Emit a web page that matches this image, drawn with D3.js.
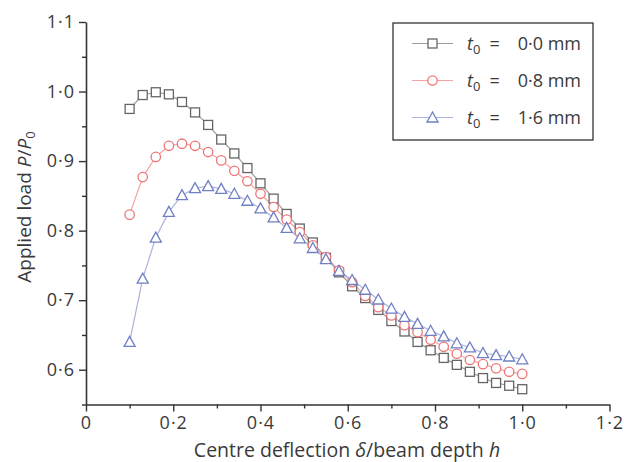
<!DOCTYPE html>
<html>
<head>
<meta charset="utf-8">
<script src="https://cdn.jsdelivr.net/npm/d3@7"></script>
<style>
  body { margin: 0; background: #fff; }
  text { font-family: "Open Sans", "DejaVu Sans", sans-serif; fill: #3a3a3a; }
</style>
</head>
<body>
<div id="container"></div>
<script>
/* CONSTANTS AND GLOBALS */
const width = 624;
const height = 462;

/* DATA */
const deflection = [0.10, 0.13, 0.16, 0.19, 0.22, 0.25, 0.28, 0.31, 0.34, 0.37, 0.40,
  0.43, 0.46, 0.49, 0.52, 0.55, 0.58, 0.61, 0.64, 0.67, 0.70, 0.73, 0.76, 0.79, 0.82,
  0.85, 0.88, 0.91, 0.94, 0.97, 1.00];
const load00 = [0.975, 0.995, 0.999, 0.996, 0.985, 0.970, 0.952, 0.931, 0.911, 0.890, 0.868,
  0.846, 0.824, 0.803, 0.783, 0.761, 0.740, 0.720, 0.703, 0.686, 0.670, 0.655, 0.640, 0.628, 0.617,
  0.607, 0.597, 0.588, 0.581, 0.577, 0.572];
const load08 = [0.823, 0.877, 0.906, 0.922, 0.925, 0.922, 0.913, 0.901, 0.886, 0.871, 0.853,
  0.834, 0.816, 0.798, 0.779, 0.762, 0.743, 0.726, 0.706, 0.690, 0.678, 0.664, 0.654, 0.643, 0.633,
  0.623, 0.614, 0.608, 0.602, 0.597, 0.594];
const load16 = [0.640, 0.731, 0.790, 0.827, 0.851, 0.861, 0.864, 0.860, 0.853, 0.843, 0.832,
  0.819, 0.804, 0.789, 0.775, 0.759, 0.742, 0.729, 0.715, 0.701, 0.688, 0.676, 0.666, 0.656, 0.648,
  0.638, 0.632, 0.624, 0.621, 0.619, 0.615];
const seriesNames = ["0·0", "0·8", "1·6"];

const xTicks = [0, 0.2, 0.4, 0.6, 0.8, 1.0, 1.2];
const xMinor = [0.1, 0.3, 0.5, 0.7, 0.9, 1.1];
const yTicks = [0.6, 0.7, 0.8, 0.9, 1.0, 1.1];
const yMinor = [0.55, 0.65, 0.75, 0.85, 0.95, 1.05];

const fmt = d => d === 0 ? "0" : d3.format(".1f")(d).replace(".", "·");

const series = [
  { name: seriesNames[0], values: load00, line: "#9c9c9c", mark: "#666666", shape: "square" },
  { name: seriesNames[1], values: load08, line: "#f5a3a3", mark: "#f07474", shape: "circle" },
  { name: seriesNames[2], values: load16, line: "#aab2de", mark: "#6f7fc4", shape: "triangle" }
];

const svg = d3.select("#container")
  .append("svg")
  .attr("width", width)
  .attr("height", height)
  .style("background-color", "white");

/* SCALES */
const xScale = d3.scaleLinear().domain([0, 1.2]).range([86, 609.5]);
const yScale = d3.scaleLinear().domain([0.55, 1.1]).range([404.5, 22]);

/* AXES */
svg.append("g")
  .attr("transform", `translate(0,${yScale(0.55)})`)
  .call(d3.axisBottom(xScale).tickValues(xTicks).tickFormat(fmt).tickSize(7).tickSizeOuter(0).tickPadding(5));
svg.append("g")
  .attr("transform", `translate(0,${yScale(0.55)})`)
  .call(d3.axisBottom(xScale).tickValues(xMinor).tickFormat("").tickSize(4).tickSizeOuter(0))
  .select(".domain").remove();

svg.append("g")
  .attr("transform", `translate(${xScale(0)},0)`)
  .call(d3.axisLeft(yScale).tickValues(yTicks).tickFormat(fmt).tickSize(7).tickSizeOuter(0).tickPadding(4));
svg.append("g")
  .attr("transform", `translate(${xScale(0)},0)`)
  .call(d3.axisLeft(yScale).tickValues(yMinor).tickFormat("").tickSize(4).tickSizeOuter(0))
  .select(".domain").remove();

svg.selectAll(".domain").attr("stroke", "#333").attr("stroke-width", 1.6);
svg.selectAll(".tick line").attr("stroke", "#333").attr("stroke-width", 1.4);
svg.selectAll(".tick text")
  .style("font-size", "18px")
  .style("letter-spacing", "1px")
  .attr("fill", "#3a3a3a");

/* AXIS TITLES */
const xTitle = svg.append("text")
  .attr("x", 347)
  .attr("y", 457)
  .attr("text-anchor", "middle")
  .style("font-size", "19.5px");
xTitle.append("tspan").text("Centre deflection ");
xTitle.append("tspan").style("font-style", "italic").text("δ");
xTitle.append("tspan").text("/beam depth ");
xTitle.append("tspan").style("font-style", "italic").text("h");

const yTitle = svg.append("text")
  .attr("transform", "translate(31,207) rotate(-90)")
  .attr("text-anchor", "middle")
  .style("font-size", "19px");
yTitle.append("tspan").text("Applied load ");
yTitle.append("tspan").style("font-style", "italic").text("P");
yTitle.append("tspan").text("/");
yTitle.append("tspan").style("font-style", "italic").text("P");
yTitle.append("tspan").attr("dy", 4).style("font-size", "13px").text("0");

/* MARKERS */
function drawMarker(g, shape, color) {
  if (shape === "square") {
    g.append("rect").attr("x", -4.5).attr("y", -4.5).attr("width", 9).attr("height", 9)
      .attr("fill", "white").attr("stroke", color).attr("stroke-width", 1.3);
  } else if (shape === "circle") {
    g.append("circle").attr("r", 4.7)
      .attr("fill", "white").attr("stroke", color).attr("stroke-width", 1.3);
  } else {
    g.append("path").attr("d", "M0,-5.5L5.5,4.5L-5.5,4.5Z")
      .attr("fill", "white").attr("stroke", color).attr("stroke-width", 1.3);
  }
}

const line = d3.line()
  .x((d, i) => xScale(deflection[i]))
  .y(d => yScale(d));

series.forEach(s => {
  svg.append("path")
    .datum(s.values)
    .attr("fill", "none")
    .attr("stroke", s.line)
    .attr("stroke-width", 1.2)
    .attr("d", line);
});

series.forEach(s => {
  svg.append("g")
    .selectAll("g")
    .data(s.values)
    .join("g")
    .attr("transform", (d, i) => `translate(${xScale(deflection[i])},${yScale(d)})`)
    .each(function () { drawMarker(d3.select(this), s.shape, s.mark); });
});

/* LEGEND */
const legend = svg.append("g").attr("transform", "translate(393,23)");
legend.append("rect")
  .attr("width", 200).attr("height", 117)
  .attr("fill", "white").attr("stroke", "#333").attr("stroke-width", 1.3);

series.forEach((s, i) => {
  const row = legend.append("g").attr("transform", `translate(0,${20.5 + i * 37})`);
  row.append("line").attr("x1", 19).attr("x2", 60).attr("stroke", s.line).attr("stroke-width", 1.2);
  const m = row.append("g").attr("transform", "translate(39.5,0)");
  drawMarker(m, s.shape, s.mark);
  const t = row.append("text").attr("x", 74).attr("y", 6).style("font-size", "18px");
  t.append("tspan").style("font-style", "italic").text("t");
  t.append("tspan").attr("dy", 4).style("font-size", "13px").text("0");
  t.append("tspan").attr("dy", -4).text(`\u2002=\u2003${s.name} mm`);
});
</script>
</body>
</html>
